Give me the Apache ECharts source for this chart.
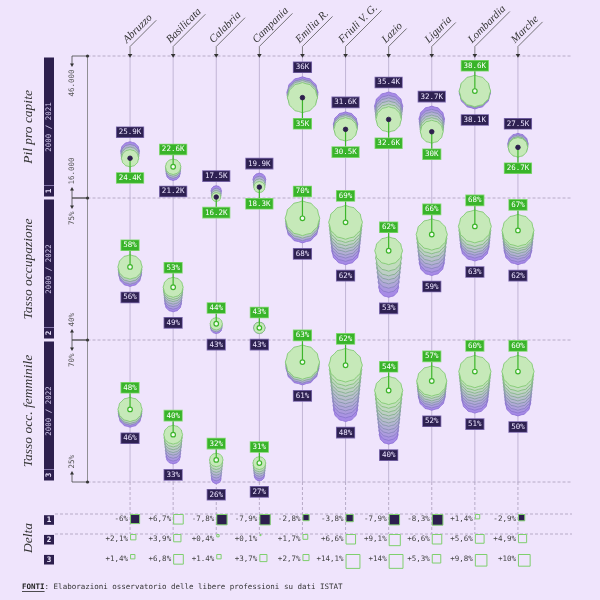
<!DOCTYPE html>
<html>
<head>
<meta charset="utf-8">
<script src="https://cdn.jsdelivr.net/npm/echarts@6/dist/echarts.min.js"></script>
<style>
html,body{margin:0;padding:0;background:#efe4fc}
#main{width:600px;height:600px}
</style>
</head>
<body>
<div id="main"></div>
<script>
var regions = ['Abruzzo','Basilicata','Calabria','Campania','Emilia R.','Friuli V. G.','Lazio','Liguria','Lombardia','Marche'];

// etichette inizio / fine periodo
var pilStartLabel = ['25.9K','21.2K','17.5K','19.9K','36K','31.6K','35.4K','32.7K','38.1K','27.5K'];
var pilEndLabel   = ['24.4K','22.6K','16.2K','18.3K','35K','30.5K','32.6K','30K','38.6K','26.7K'];
var occStartLabel = ['56%','49%','43%','43%','68%','62%','53%','59%','63%','62%'];
var occEndLabel   = ['58%','53%','44%','43%','70%','69%','62%','66%','68%','67%'];
var femStartLabel = ['46%','33%','26%','27%','61%','48%','40%','52%','51%','50%'];
var femEndLabel   = ['48%','40%','32%','31%','63%','62%','54%','57%','60%','60%'];

// strati visibili dei glifi (dal primo anno all'ultimo)
var pilLayers = [
  [25.9, 25.4, 24.9, 24.4],
  [21.2, 21.7, 22.2, 22.6],
  [17.5, 17.0, 16.6, 16.2],
  [19.9, 19.3, 18.8, 18.3],
  [38.3, 37.9, 37.6, 37.2],
  [31.6, 31.2, 30.9, 30.5],
  [35.4, 34.8, 34.3, 33.7, 33.1, 32.6],
  [32.7, 32.1, 31.6, 31.0, 30.5, 30.0],
  [38.1, 38.4, 38.6],
  [27.5, 27.2, 26.9, 26.7]
];
var occLayers = [
  [56, 56.6, 57.3, 58],
  [49, 49.7, 50.4, 51.1, 51.8, 52.4, 53],
  [43, 43.5, 44],
  [43, 43],
  [68, 68.6, 69.3, 70],
  [62, 62.9, 63.8, 64.6, 65.5, 66.3, 67.2, 68.1, 69],
  [53, 54.3, 55.5, 56.7, 57.8, 58.9, 60.2, 62],
  [59, 59.9, 60.9, 61.9, 62.9, 64, 65, 66],
  [63, 63.8, 64.6, 65.3, 66.1, 67, 68],
  [62, 62.7, 63.5, 64.2, 65, 65.7, 66.3, 67]
];
var femLayers = [
  [46, 46.7, 47.3, 48],
  [33, 34, 35, 36.1, 37, 38, 39, 40],
  [26, 27, 28, 29, 30, 31, 32],
  [27, 27.8, 28.6, 29.4, 30.2, 31],
  [61, 61.6, 62.3, 63],
  [48, 49.3, 50.6, 51.8, 53, 54.3, 55.5, 56.8, 58, 59.3, 60.6, 62],
  [40, 41.3, 42.5, 43.8, 45, 46.3, 47.5, 48.8, 50, 51.3, 52.7, 54],
  [52, 52.8, 53.7, 54.5, 55.3, 56.2, 57],
  [51, 52, 53, 54, 55, 56, 57, 58, 59, 60],
  [50, 51, 52, 53.1, 54.2, 55.3, 56.4, 57.5, 58.7, 60]
];

// delta
var deltaPil = [-6, 6.7, -7.8, -7.9, -2.8, -3.8, -7.9, -8.3, 1.4, -2.9];
var deltaOcc = [2.1, 3.9, 0.4, 0.1, 1.7, 6.6, 9.1, 6.6, 5.6, 4.9];
var deltaFem = [1.4, 6.8, 1.4, 3.7, 2.7, 14.1, 14, 5.3, 9.8, 10];
var deltaPilLabel = ['-6%','+6,7%','-7,8%','-7,9%','-2,8%','-3,8%','-7,9%','-8,3%','+1,4%','-2,9%'];
var deltaOccLabel = ['+2,1%','+3,9%','+0,4%','+0,1%','+1,7%','+6,6%','+9,1%','+6,6%','+5,6%','+4,9%'];
var deltaFemLabel = ['+1,4%','+6,8%','+1.4%','+3,7%','+2,7%','+14,1%','+14%','+5,3%','+9,8%','+10%'];

var panelTitles = ['Pil pro capite','Tasso occupazione','Tasso occ. femminile'];
var panelPeriods = ['2000 / 2021','2000 / 2022','2000 / 2022'];
var panelNumbers = ['1','2','3'];
var axisTop = ['46.000','75%','70%'];
var axisBottom = ['16.000','40%','25%'];

var DARK = '#2d1f4e';
var BG = '#efe4fc';
var MONO = '"DejaVu Sans Mono", monospace';
var SERIF = '"Liberation Serif", "DejaVu Serif", serif';
var GX = 108.5, GW = 431, PH = 142;

var panels = [
  {top: 56, lo: 16, hi: 46, layers: pilLayers, sLab: pilStartLabel, eLab: pilEndLabel},
  {top: 198, lo: 40, hi: 75, layers: occLayers, sLab: occStartLabel, eLab: occEndLabel},
  {top: 340, lo: 25, hi: 70, layers: femLayers, sLab: femStartLabel, eLab: femEndLabel}
];
var DELTA_TOP = 482;

function hex2rgb(h){ return [parseInt(h.substr(1,2),16),parseInt(h.substr(3,2),16),parseInt(h.substr(5,2),16)]; }
function mix(a,b,t){
  var x=hex2rgb(a), y=hex2rgb(b);
  return 'rgb('+Math.round(x[0]+(y[0]-x[0])*t)+','+Math.round(x[1]+(y[1]-x[1])*t)+','+Math.round(x[2]+(y[2]-x[2])*t)+')';
}
function blob(cx,cy,r){
  var pts=[];
  for(var m=0;m<24;m++){
    var a=-Math.PI/2+m*Math.PI/12, rr=(m%2===0)?r:r*0.95;
    pts.push([cx+rr*Math.cos(a), cy+rr*Math.sin(a)]);
  }
  return pts;
}

var measureCtx = document.createElement('canvas').getContext('2d');
measureCtx.font = 'italic 11px "Liberation Serif"';
var nameWidth = regions.map(function(n){ return measureCtx.measureText(n).width; });

function lineSeries(k){
  var p = panels[k];
  return {
    type:'custom', xAxisIndex:k, yAxisIndex:k, z:1, silent:true, clip:false,
    data: regions.map(function(r,i){ return [i]; }),
    renderItem: function(params, api){
      var i = api.value(0);
      var a = api.coord([i, p.hi]), b = api.coord([i, p.lo]);
      return {type:'line', shape:{x1:a[0],y1:a[1],x2:b[0],y2:b[1]}, style:{stroke:'#b6a9cc', lineWidth:0.8}};
    }
  };
}

function glyphSeries(k){
  var p = panels[k];
  return {
    type:'custom', xAxisIndex:k, yAxisIndex:k, z:3, silent:true, clip:false,
    data: regions.map(function(r,i){ return [i, p.layers[i][p.layers[i].length-1]]; }),
    renderItem: function(params, api){
      var i = api.value(0);
      var lay = p.layers[i], n = lay.length;
      var full = api.size([0, p.hi - p.lo])[1];
      var ch = [];
      var topE = Infinity, botE = -Infinity;
      for(var j=0;j<n;j++){
        var v = lay[j];
        var c = api.coord([i, v]);
        var r = 4.5 + api.size([0, v - p.lo])[1] / full * 15;
        var t = n > 1 ? j/(n-1) : 1;
        ch.push({type:'polygon', shape:{points: blob(c[0], c[1], r)},
          style:{fill: mix('#a78be6','#c6e9b9',t), stroke: mix('#8a6bd6','#79c668',t), lineWidth:0.8}});
        topE = Math.min(topE, c[1]-r); botE = Math.max(botE, c[1]+r);
      }
      var ce = api.coord([i, lay[n-1]]);
      var down = lay[n-1] < lay[0];
      var gy = down ? botE + 11 : topE - 9.5;
      var py = down ? topE - 9.5 : botE + 11;
      ch.push({type:'line', shape:{x1:ce[0],y1:ce[1],x2:ce[0],y2:gy}, style:{stroke:'#3db52b', lineWidth:1.2}});
      ch.push({type:'circle', shape:{cx:ce[0], cy:ce[1], r:2.3},
        style: down ? {fill:DARK, stroke:'#2a1b48', lineWidth:0.8} : {fill:'#f4fbf0', stroke:'#3db52b', lineWidth:1.2}});
      ch.push({type:'text', x:ce[0], y:gy, style:{text:p.eLab[i], font:'7.5px '+MONO, fill:'#ffffff',
        align:'center', verticalAlign:'middle', backgroundColor:'#39b42a', borderColor:'#86d976', borderWidth:0.8, padding:[1.5,2,0.5,2]}});
      ch.push({type:'text', x:ce[0], y:py, style:{text:p.sLab[i], font:'7.5px '+MONO, fill:'#ece4ff',
        align:'center', verticalAlign:'middle', backgroundColor:'#2e2152', borderColor:'#7d6aae', borderWidth:0.8, padding:[1.5,2,0.5,2]}});
      return {type:'group', children: ch};
    }
  };
}

var headerSeries = {
  type:'custom', xAxisIndex:0, yAxisIndex:0, z:4, silent:true, clip:false,
  data: regions.map(function(r,i){ return [i]; }),
  renderItem: function(params, api){
    var i = api.value(0);
    var a = api.coord([i, panels[0].hi]);
    var x = a[0], y0 = a[1], y1 = y0 - 9.5;
    var L = nameWidth[i] + 1, d = L/Math.SQRT2;
    return {type:'group', children:[
      {type:'line', shape:{x1:x,y1:y0,x2:x,y2:y1}, style:{stroke:'#666', lineWidth:0.8}},
      {type:'line', shape:{x1:x,y1:y1,x2:x+d,y2:y1-d}, style:{stroke:'#555', lineWidth:0.8}},
      {type:'polygon', shape:{points:[[x-2.3,y0-2],[x+2.3,y0-2],[x,y0+1.8]]}, style:{fill:'#333'}},
      {type:'text', x:x-1.1, y:y1-1.1, rotation:Math.PI/4,
        style:{text:regions[i], font:'italic 11px '+SERIF, fill:'#333', align:'left', verticalAlign:'bottom'}}
    ]};
  }
};

var deltaItems = [], deltaLabels = [];
[deltaPil, deltaOcc, deltaFem].forEach(function(arr, row){
  var labs = [deltaPilLabel, deltaOccLabel, deltaFemLabel][row];
  arr.forEach(function(d, i){ deltaItems.push([i, row, d]); deltaLabels.push(labs[i]); });
});

var deltaLineSeries = {
  type:'custom', xAxisIndex:3, yAxisIndex:3, z:1, silent:true, clip:false,
  data: regions.map(function(r,i){ return [i]; }),
  renderItem: function(params, api){
    var i = api.value(0);
    var a = api.coord([i, -1.6]), b = api.coord([i, 1]);
    return {type:'line', shape:{x1:a[0],y1:a[1],x2:b[0],y2:b[1]}, style:{stroke:'#a99dba', lineWidth:0.8, lineDash:[3,2]}};
  }
};

var deltaSeries = {
  type:'custom', xAxisIndex:3, yAxisIndex:3, z:3, silent:true, clip:false,
  data: deltaItems,
  renderItem: function(params, api){
    var i = api.value(0), row = api.value(1), d = api.value(2);
    var c = api.coord([i, row]);
    var s = 3.7 * Math.sqrt(Math.abs(d));
    return {type:'group', children:[
      {type:'rect', shape:{x:c[0]+0.5, y:c[1]+0.5, width:s, height:s},
        style:{fill: d < 0 ? DARK : BG, stroke:'#7fcf6e', lineWidth:1}},
      {type:'text', x:c[0]-2, y:c[1]+5, style:{text:deltaLabels[params.dataIndex], font:'7.5px '+MONO,
        fill:'#444', align:'right', verticalAlign:'middle'}}
    ]};
  }
};

// decorazioni fisse (cornice, titoli, legenda righe)
var graphics = [];
var bottomAll = panels[2].top + PH;
graphics.push({type:'line', shape:{x1:87.5,y1:panels[0].top,x2:87.5,y2:bottomAll}, style:{stroke:'#777', lineWidth:0.8}});
[56,198,340,482].forEach(function(y){
  graphics.push({type:'line', shape:{x1:87.5,y1:y,x2:572,y2:y}, style:{stroke:'#a99dba', lineWidth:0.8, lineDash:[3,2]}});
  graphics.push({type:'circle', shape:{cx:87.5, cy:y, r:1.6}, style:{fill:'#333'}});
});
panels.forEach(function(p, k){
  var top = p.top, bot = p.top + PH, mid = p.top + PH/2;
  graphics.push({type:'rect', shape:{x:44, y:top+1.5, width:10, height:PH-3}, style:{fill:DARK}});
  graphics.push({type:'line', shape:{x1:44, y1:bot-12.5, x2:54, y2:bot-12.5}, style:{stroke:'#9a8cc0', lineWidth:0.8}});
  graphics.push({type:'text', x:49, y:bot-7, rotation:Math.PI/2, style:{text:panelNumbers[k], font:'bold 7.5px '+MONO, fill:'#e8e0fa', align:'center', verticalAlign:'middle'}});
  graphics.push({type:'text', x:49, y:mid, rotation:Math.PI/2, style:{text:panelPeriods[k], font:'7.5px '+MONO, fill:'#d6cbef', align:'center', verticalAlign:'middle'}});
  graphics.push({type:'text', x:28, y:mid, rotation:Math.PI/2, style:{text:panelTitles[k], font:'italic 13.5px '+SERIF, fill:'#333', align:'center', verticalAlign:'middle'}});
  graphics.push({type:'text', x:72, y:top+13.5, rotation:Math.PI/2, style:{text:axisTop[k], font:'7.5px '+MONO, fill:'#555', align:'right', verticalAlign:'middle'}});
  graphics.push({type:'text', x:72, y:bot-13.5, rotation:Math.PI/2, style:{text:axisBottom[k], font:'7.5px '+MONO, fill:'#555', align:'left', verticalAlign:'middle'}});
  graphics.push({type:'polyline', shape:{points:[[87.5,top],[72,top],[72,top+8]]}, style:{stroke:'#444', lineWidth:0.8, fill:null}});
  graphics.push({type:'polygon', shape:{points:[[70,top+7.5],[74,top+7.5],[72,top+11]]}, style:{fill:'#333'}});
  graphics.push({type:'polyline', shape:{points:[[87.5,bot],[72,bot],[72,bot-8]]}, style:{stroke:'#444', lineWidth:0.8, fill:null}});
  graphics.push({type:'polygon', shape:{points:[[70,bot-7.5],[74,bot-7.5],[72,bot-11]]}, style:{fill:'#333'}});
});
[514,534].forEach(function(y){
  graphics.push({type:'line', shape:{x1:55,y1:y,x2:572,y2:y}, style:{stroke:'#a99dba', lineWidth:0.8, lineDash:[3,2]}});
});
[520, 539.7, 559.7].forEach(function(cy, k){
  graphics.push({type:'rect', shape:{x:44, y:cy-4.8, width:10, height:9.6}, style:{fill:DARK}});
  graphics.push({type:'text', x:49, y:cy, style:{text:panelNumbers[k], font:'bold 7.5px '+MONO, fill:'#f0ebff', align:'center', verticalAlign:'middle'}});
});
graphics.push({type:'text', x:28, y:538, rotation:Math.PI/2, style:{text:'Delta', font:'italic 13.5px '+SERIF, fill:'#333', align:'center', verticalAlign:'middle'}});
graphics.push({type:'text', x:22, y:587, style:{text:'{b|FONTI}: Elaborazioni osservatorio delle libere professioni su dati ISTAT',
  fontFamily:'DejaVu Sans Mono', fontSize:7.5, fill:'#333', verticalAlign:'middle',
  rich:{b:{fontFamily:'DejaVu Sans Mono', fontSize:7.5, fontWeight:'bold', fill:'#222'}}}});
graphics.push({type:'line', shape:{x1:22, y1:591.5, x2:44.6, y2:591.5}, style:{stroke:'#222', lineWidth:0.8}});

var grids = panels.map(function(p){ return {left:GX, width:GW, top:p.top, height:PH}; });
grids.push({left:GX, width:GW, top:DELTA_TOP, height:92});

var option = {
  backgroundColor: BG,
  animation: false,
  grid: grids,
  xAxis: [0,1,2,3].map(function(k){ return {type:'category', gridIndex:k, data:regions, show:false}; }),
  yAxis: panels.map(function(p,k){ return {type:'value', gridIndex:k, min:p.lo, max:p.hi, show:false}; })
    .concat([{type:'value', gridIndex:3, min:-1.6, max:3, inverse:true, show:false}]),
  graphic: graphics,
  series: [lineSeries(0), lineSeries(1), lineSeries(2), deltaLineSeries,
    glyphSeries(0), glyphSeries(1), glyphSeries(2), headerSeries, deltaSeries]
};

var chart = echarts.init(document.getElementById('main'));
chart.setOption(option);
</script>
</body>
</html>
